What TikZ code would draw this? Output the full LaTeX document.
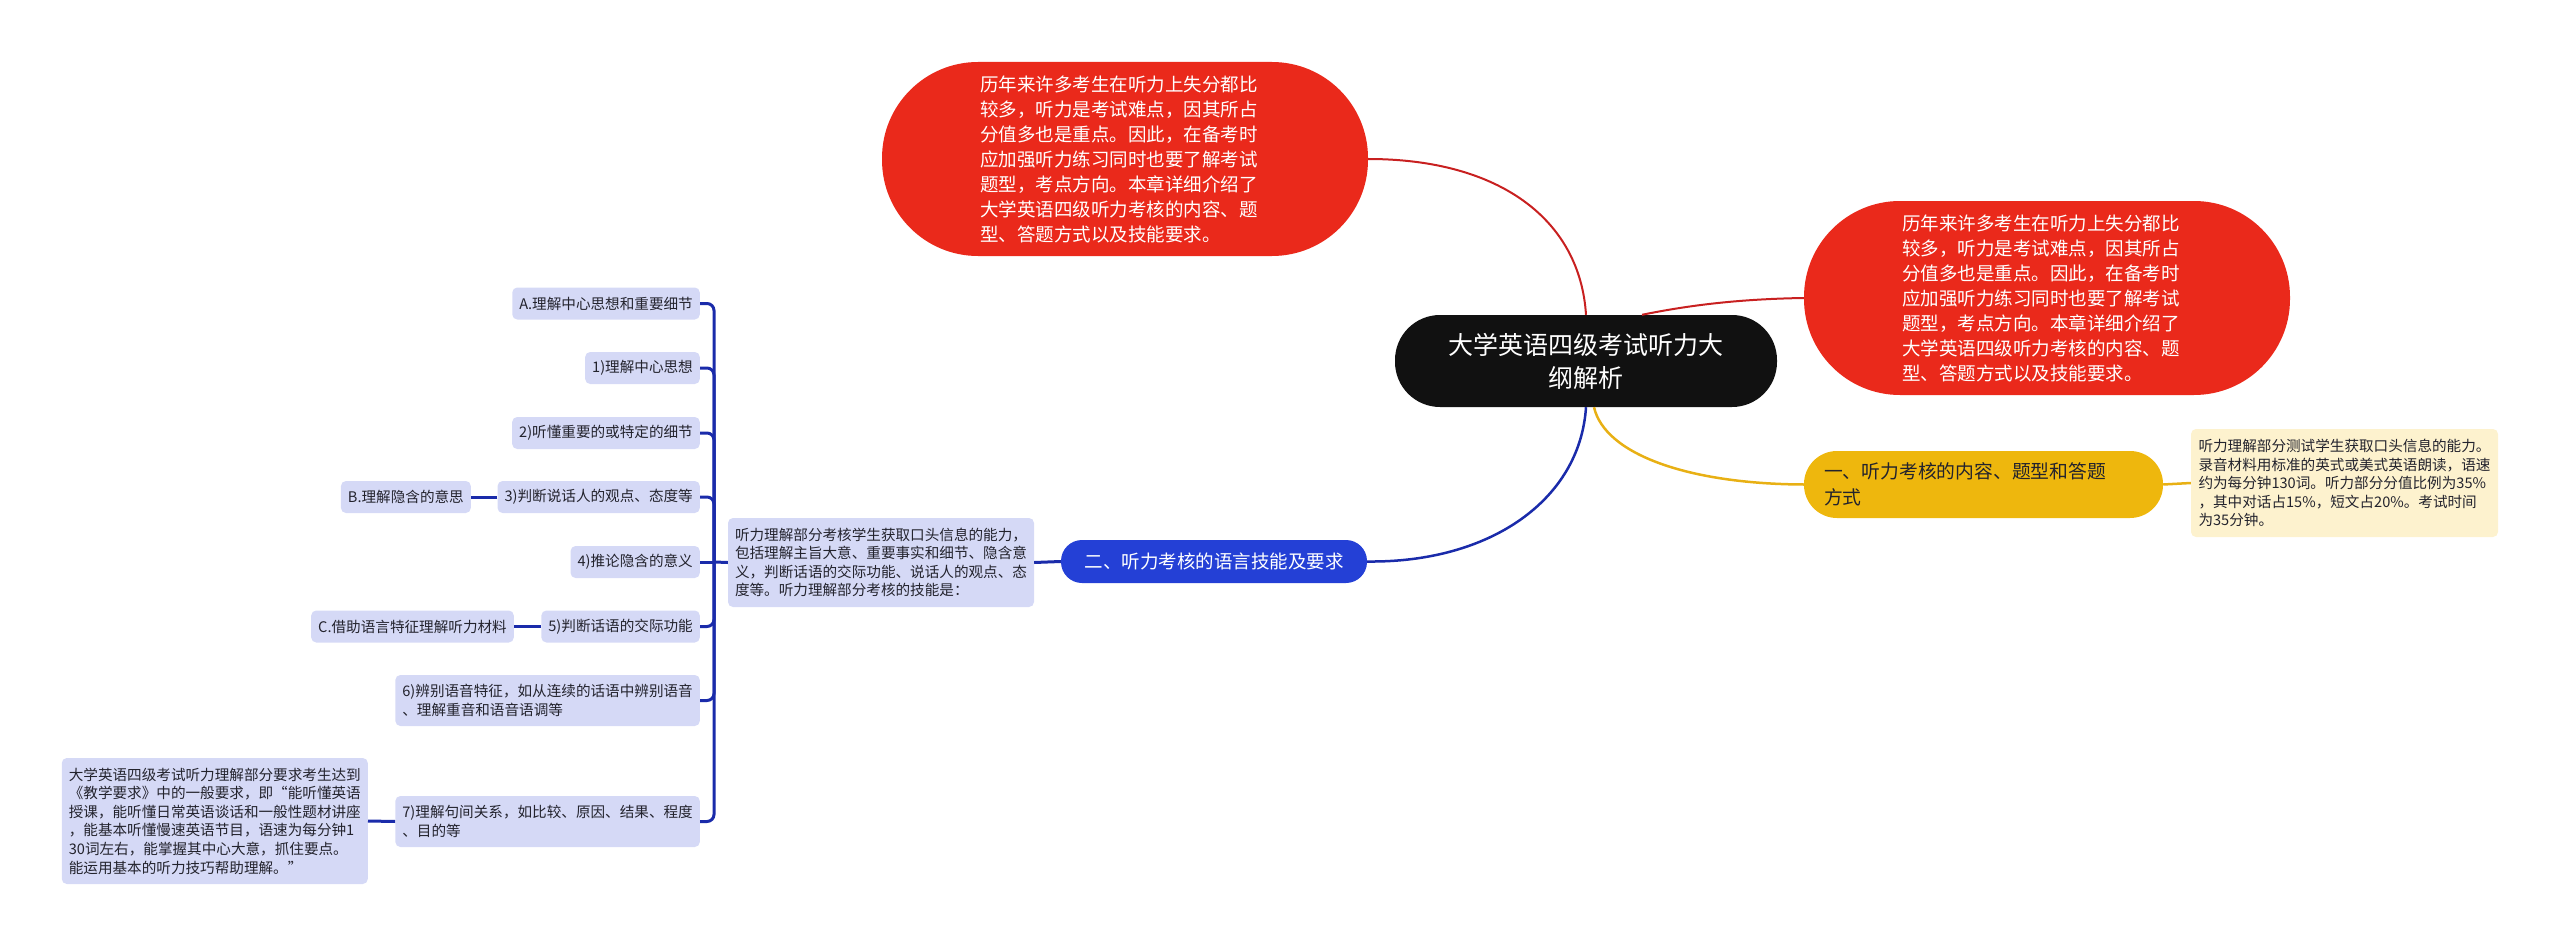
\documentclass[tikz,border=0pt]{standalone}
\usepackage{fontspec}
\newfontfamily\cjk{Noto Sans CJK SC}
\usepackage{tikz}
\usetikzlibrary{calc}

\definecolor{pillred}{RGB}{234,41,27}
\definecolor{redwire}{RGB}{200,32,32}
\definecolor{rootblack}{RGB}{17,17,17}
\definecolor{goldfill}{RGB}{238,183,13}
\definecolor{goldwire}{RGB}{232,176,20}
\definecolor{creamfill}{RGB}{253,242,206}
\definecolor{royal}{RGB}{36,64,214}
\definecolor{bluewire}{RGB}{26,43,170}
\definecolor{lavender}{RGB}{213,217,246}
\definecolor{inkdark}{RGB}{35,35,45}

\begin{document}
\begin{tikzpicture}[
  x=1pt,y=-1pt,
  redpill/.style={fill=pillred,text=white,rounded corners=96pt,
    minimum height=194pt,text width=290pt,inner xsep=98pt,inner ysep=2pt,
    align=left,font=\cjk\fontsize{18.5}{25}\selectfont},
  rootpill/.style={fill=rootblack,text=white,rounded corners=45pt,
    minimum width=382pt,minimum height=92pt,inner sep=2pt,align=center,
    font=\cjk\fontsize{25}{33}\selectfont},
  goldpill/.style={fill=goldfill,text=inkdark,rounded corners=33pt,
    minimum height=67pt,text width=319pt,inner xsep=20pt,inner ysep=2pt,
    align=left,font=\cjk\fontsize{18.8}{26}\selectfont},
  bluepill/.style={fill=royal,text=white,rounded corners=21pt,
    minimum width=306pt,minimum height=43pt,inner sep=2pt,
    font=\cjk\fontsize{18.5}{24}\selectfont},
  leaf/.style={fill=lavender,text=inkdark,rounded corners=5pt,
    minimum height=32pt,inner xsep=7pt,inner ysep=2pt,align=left,
    font=\cjk\fontsize{14.6}{18.6}\selectfont},
  note/.style={leaf,fill=creamfill},
  redline/.style={redwire,line width=2pt},
  goldline/.style={goldwire,line width=2.5pt},
  blueline/.style={bluewire,line width=2.5pt},
  spine/.style={bluewire,line width=3pt}
]
  \useasboundingbox (0,0) rectangle (2560,947);

  % centre topic
  \node[rootpill] (root) at (1586,361) {大学英语四级考试听力大\\纲解析};

  % the two summary pills
  \node[redpill] (introtop) at (1125,159) {历年来许多考生在听力上失分都比\\较多，听力是考试难点，因其所占\\分值多也是重点。因此，在备考时\\应加强听力练习同时也要了解考试\\题型，考点方向。本章详细介绍了\\大学英语四级听力考核的内容、题\\型、答题方式以及技能要求。};
  \node[redpill] (introright) at (2047,298) {历年来许多考生在听力上失分都比\\较多，听力是考试难点，因其所占\\分值多也是重点。因此，在备考时\\应加强听力练习同时也要了解考试\\题型，考点方向。本章详细介绍了\\大学英语四级听力考核的内容、题\\型、答题方式以及技能要求。};

  % part one
  \node[goldpill] (partone) at (1983.5,484.5) {一、听力考核的内容、题型和答题\\方式};
  \node[note,minimum width=307pt,minimum height=108pt] (partonenote) at (2344.5,483) {听力理解部分测试学生获取口头信息的能力。\\录音材料用标准的英式或美式英语朗读，语速\\约为每分钟130词。听力部分分值比例为35\%\\，其中对话占15\%，短文占20\%。考试时间\\为35分钟。};

  % part two
  \node[bluepill] (parttwo) at (1214,561.5) {二、听力考核的语言技能及要求};
  \node[leaf,minimum width=306pt,minimum height=89pt,inner xsep=5pt] (skills) at (881,562.5) {听力理解部分考核学生获取口头信息的能力，\\包括理解主旨大意、重要事实和细节、隐含意\\义，判断话语的交际功能、说话人的观点、态\\度等。听力理解部分考核的技能是：};

  % skill list, right edges flush at x = 700
  \node[leaf,anchor=east] (skillA) at (700,303.5) {A.理解中心思想和重要细节};
  \node[leaf,anchor=east] (skill1) at (700,368) {1)理解中心思想};
  \node[leaf,anchor=east] (skill2) at (700,433) {2)听懂重要的或特定的细节};
  \node[leaf,anchor=east] (skill3) at (700,497) {3)判断说话人的观点、态度等};
  \node[leaf,anchor=east] (skill4) at (700,562) {4)推论隐含的意义};
  \node[leaf,anchor=east] (skill5) at (700,626.5) {5)判断话语的交际功能};
  \node[leaf,anchor=east,minimum height=51pt] (skill6) at (700,700.5) {6)辨别语音特征，如从连续的话语中辨别语音\\、理解重音和语音语调等};
  \node[leaf,anchor=east,minimum height=51pt] (skill7) at (700,821.5) {7)理解句间关系，如比较、原因、结果、程度\\、目的等};

  % side notes hanging off the list
  \node[leaf,anchor=east] (implied) at (471,497) {B.理解隐含的意思};
  \node[leaf,anchor=east] (features) at (514,626.5) {C.借助语言特征理解听力材料};
  \node[leaf,anchor=east,minimum height=126pt] (syllabus) at (368,821) {大学英语四级考试听力理解部分要求考生达到\\《教学要求》中的一般要求，即“能听懂英语\\授课，能听懂日常英语谈话和一般性题材讲座\\，能基本听懂慢速英语节目，语速为每分钟1\\30词左右，能掌握其中心大意，抓住要点。\\能运用基本的听力技巧帮助理解。”};

  % branches out of the centre
  \draw[redline] (root.north) .. controls (1580,220) and (1500,159) .. (introtop.east);
  \draw[redline] ([xshift=56pt]root.north) .. controls (1690,305) and (1740,299) .. (introright.west);
  \draw[goldline] ([xshift=8pt]root.south) .. controls (1605,455) and (1690,484) .. (partone.west);
  \draw[blueline] (root.south) .. controls (1580,500) and (1490,563) .. (parttwo.east);

  \draw[goldline] (partone.east) -- (partonenote.west);
  \draw[spine] (parttwo.west) -- (skills.east);

  % bracket spine
  \coordinate (hub) at (714,562);
  \draw[spine] (skills.west) -- (hub);
  \draw[spine,rounded corners=7pt] (hub) |- (skillA.east);
  \draw[spine,rounded corners=7pt] (hub) |- (skill1.east);
  \draw[spine,rounded corners=7pt] (hub) |- (skill2.east);
  \draw[spine,rounded corners=7pt] (hub) |- (skill3.east);
  \draw[spine] (hub) -- (skill4.east);
  \draw[spine,rounded corners=7pt] (hub) |- (skill5.east);
  \draw[spine,rounded corners=7pt] (hub) |- (skill6.east);
  \draw[spine,rounded corners=7pt] (hub) |- (skill7.east);

  \draw[spine] (skill3.west) -- (implied.east);
  \draw[spine] (skill5.west) -- (features.east);
  \draw[spine] (skill7.west) -- (syllabus.east);
\end{tikzpicture}
\end{document}
